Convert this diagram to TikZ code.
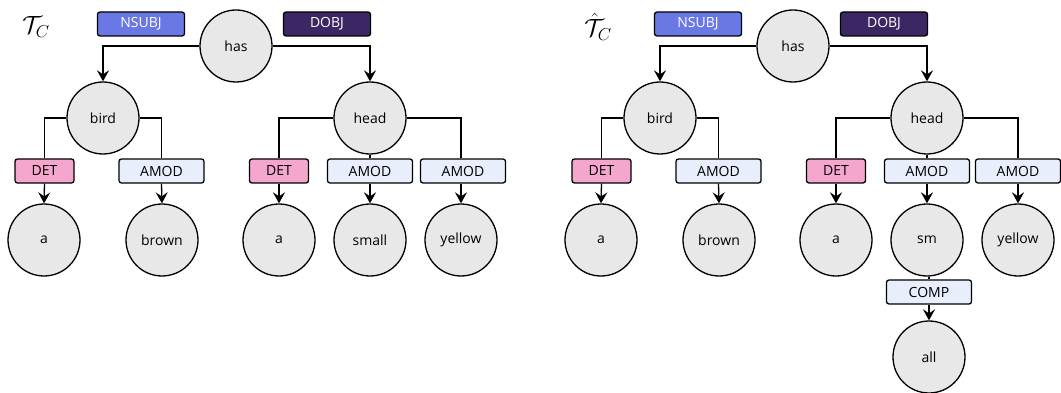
\documentclass[tikz,border=0pt]{standalone}
\usepackage{fontspec}
\setsansfont{Open Sans}
\usetikzlibrary{arrows.meta}
\definecolor{nsubjc}{HTML}{6A78E6}
\definecolor{dobjc}{HTML}{3B2763}
\definecolor{detc}{HTML}{F4A6CC}
\definecolor{amodc}{HTML}{E8EEFC}
\definecolor{wordc}{HTML}{E8E8E8}
\tikzset{
  word/.style={circle,draw=black,fill=wordc,line width=1.3pt,minimum size=72pt,inner sep=0pt,font=\sffamily\fontsize{14}{16}\selectfont},
  rel/.style={draw=black,rounded corners=2.5pt,line width=1.3pt,minimum height=24pt,inner sep=0pt,font=\sffamily\fontsize{14}{16}\selectfont},
  nsubjbox/.style={rel,fill=nsubjc,text=white,minimum width=87pt},
  dobjbox/.style={rel,fill=dobjc,text=white,minimum width=87pt},
  detbox/.style={rel,fill=detc,minimum width=59pt},
  amodbox/.style={rel,fill=amodc,minimum width=85pt},
  link/.style={line width=1.3pt},
  arr/.style={line width=1.3pt,-{Stealth[length=11pt,width=12pt,inset=4pt]}},
  ttl/.style={font=\fontsize{24}{26}\selectfont}
}
\begin{document}
\begin{tikzpicture}[x=1pt,y=-1pt]
\useasboundingbox (0,0) rectangle (1061,393);
% ---------------- left tree
\node[ttl] (t1) at (36,27) {$\mathcal{T}_C$};
\node[word] (has1) at (236,46) {has};
\node[nsubjbox] (ns1) at (141,24) {NSUBJ};
\node[dobjbox] (do1) at (327,24) {DOBJ};
\node[word] (bird1) at (103,118) {bird};
\node[word] (head1) at (370,118) {head};
\node[detbox] (det1) at (44.5,171) {DET};
\node[amodbox] (am1) at (161.5,171) {AMOD};
\node[word] (a1) at (44,240) {a};
\node[word] (brown1) at (162,240) {brown};
\node[detbox] (det2) at (279,171) {DET};
\node[amodbox] (am2) at (370,171) {AMOD};
\node[amodbox] (am3) at (463,171) {AMOD};
\node[word] (a2) at (279,240) {a};
\node[word] (small1) at (370,240) {small};
\node[word] (yellow1) at (461,240) {yellow};
\draw[arr] (has1.west) -| (bird1.north);
\draw[arr] (has1.east) -| (head1.north);
\draw[link] (bird1.west) -| (det1.north);
\draw[link] (bird1.east) -| (am1.north);
\draw[arr] (det1.south) -- (a1.north);
\draw[arr] (am1.south) -- (brown1.north);
\draw[link] (head1.west) -| (det2.north);
\draw[link] (head1.south) -- (am2.north);
\draw[link] (head1.east) -| (yellow1.north |- am3.north);
\draw[arr] (det2.south) -- (a2.north);
\draw[arr] (am2.south) -- (small1.north);
\draw[arr] (yellow1.north |- am3.south) -- (yellow1.north);
% ---------------- right tree
\node[ttl] (t2) at (598,27) {$\hat{\mathcal{T}}_C$};
\node[word] (has2) at (793,46) {has};
\node[nsubjbox] (ns2) at (698,24) {NSUBJ};
\node[dobjbox] (do2) at (884,24) {DOBJ};
\node[word] (bird2) at (660,118) {bird};
\node[word] (head2) at (927,118) {head};
\node[detbox] (det3) at (601.5,171) {DET};
\node[amodbox] (am4) at (718.5,171) {AMOD};
\node[word] (a3) at (601,240) {a};
\node[word] (brown2) at (719,240) {brown};
\node[detbox] (det4) at (836,171) {DET};
\node[amodbox] (am5) at (927,171) {AMOD};
\node[amodbox] (am6) at (1018,171) {AMOD};
\node[word] (a4) at (836,240) {a};
\node[word] (sm) at (927,240) {sm};
\node[word] (yellow2) at (1018,240) {yellow};
\node[amodbox] (comp) at (929,292) {COMP};
\node[word] (all) at (929,357) {all};
\draw[arr] (has2.west) -| (bird2.north);
\draw[arr] (has2.east) -| (head2.north);
\draw[link] (bird2.west) -| (det3.north);
\draw[link] (bird2.east) -| (am4.north);
\draw[arr] (det3.south) -- (a3.north);
\draw[arr] (am4.south) -- (brown2.north);
\draw[link] (head2.west) -| (det4.north);
\draw[link] (head2.south) -- (am5.north);
\draw[link] (head2.east) -| (am6.north);
\draw[arr] (det4.south) -- (a4.north);
\draw[arr] (am5.south) -- (sm.north);
\draw[arr] (am6.south) -- (yellow2.north);
\draw[link] (sm.south -| comp.north) -- (comp.north);
\draw[arr] (comp.south) -- (all.north);
\end{tikzpicture}
\end{document}
